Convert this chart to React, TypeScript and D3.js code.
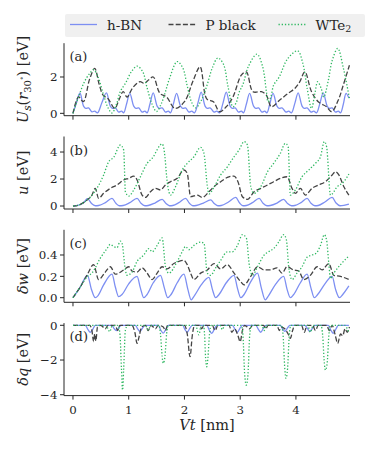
import React from "react";
import * as d3 from "d3";

type P = [number, number];

const X_TICKS = [0, 1, 2, 3, 4];
const SERIES_NAMES = ["h-BN", "P black", "WTe2"];

// Panel (a): U_s(r_30)
const hbnA: P[] = [[0,0],[0.06,0.55],[0.125,1.12],[0.19,0.4],[0.23,0.27],[0.28,0.3],[0.34,0.08],[0.39,0.12],[0.44,0.03],[0.52,0.6],[0.6,1.13],
[0.67,0.4],[0.71,0.27],[0.76,0.3],[0.82,0.07],[0.87,0.12],[0.91,0.03],[0.96,0.5],[1.02,1.1],
[1.09,0.4],[1.13,0.27],[1.18,0.3],[1.24,0.07],[1.29,0.12],[1.33,0.03],[1.38,0.5],[1.44,1.13],
[1.51,0.4],[1.55,0.27],[1.6,0.3],[1.66,0.07],[1.71,0.12],[1.75,0.03],[1.8,0.5],[1.86,1.1],
[1.93,0.4],[1.97,0.27],[2.02,0.3],[2.08,0.07],[2.13,0.12],[2.18,0.03],[2.24,0.55],[2.3,1.17],
[2.37,0.4],[2.41,0.27],[2.46,0.3],[2.53,0.07],[2.58,0.12],[2.63,0.03],[2.69,0.55],[2.75,1.17],
[2.82,0.4],[2.86,0.27],[2.91,0.3],[2.97,0.07],[3.02,0.12],[3.06,0.03],[3.11,0.5],[3.17,1.1],
[3.24,0.4],[3.28,0.27],[3.33,0.3],[3.39,0.07],[3.44,0.12],[3.48,0.03],[3.53,0.5],[3.59,1.1],
[3.66,0.4],[3.7,0.27],[3.75,0.3],[3.82,0.07],[3.87,0.12],[3.92,0.03],[3.98,0.55],[4.04,1.13],
[4.11,0.4],[4.15,0.27],[4.2,0.3],[4.27,0.07],[4.32,0.12],[4.37,0.03],[4.43,0.55],[4.49,1.13],
[4.56,0.4],[4.6,0.27],[4.65,0.3],[4.71,0.07],[4.76,0.12],[4.8,0.03],[4.85,0.5],[4.9,1.1],[4.95,0.85]];
const pblackA: P[] = [[0,0],[0.1,0.9],[0.185,0.64],[0.3,1.9],[0.39,2.47],[0.47,1.6],[0.54,1.0],[0.63,0.8],[0.75,0.27],[0.82,0.7],[0.9,1.19],[0.97,0.9],[1.07,1.4],[1.2,1.74],[1.28,1.65],[1.36,1.85],[1.44,2.0],[1.56,1.1],[1.68,0.9],[1.83,0.27],[2.0,0.64],[2.16,1.83],[2.28,2.56],[2.4,0.8],[2.52,0.64],[2.63,0.09],[2.75,0.36],[2.87,0.9],[3.02,2.1],[3.11,2.28],[3.23,1.19],[3.38,1.19],[3.47,1.0],[3.56,0.36],[3.71,0.73],[3.86,1.1],[3.98,1.37],[4.07,1.74],[4.16,2.28],[4.28,1.19],[4.4,0.64],[4.55,0.36],[4.64,0.09],[4.76,0.73],[4.84,1.46],[4.96,2.65]];
const wte2A: P[] = [[0,0],[0.1,0.9],[0.2,1.7],[0.3,2.2],[0.37,2.4],[0.45,2.0],[0.55,1.0],[0.63,0.3],[0.7,0.02],[0.78,0.5],[0.85,1.2],[0.95,1.7],[1.05,2.3],[1.15,2.6],[1.25,2.3],[1.33,1.4],[1.42,0.5],[1.5,0.1],[1.58,0.5],[1.65,1.1],[1.73,1.9],[1.87,2.85],[1.97,2.5],[2.05,1.5],[2.13,0.6],[2.2,0.3],[2.3,0.7],[2.4,1.5],[2.5,2.5],[2.6,3.05],[2.7,2.7],[2.78,1.5],[2.87,0.36],[2.93,0.6],[2.98,1.15],[3.05,1.6],[3.15,2.6],[3.3,3.26],[3.4,2.6],[3.47,1.2],[3.5,0.64],[3.55,0.9],[3.6,1.55],[3.7,2.0],[3.85,3.0],[4.03,3.44],[4.12,2.8],[4.2,1.4],[4.28,0.27],[4.34,1.1],[4.39,1.74],[4.45,1.4],[4.5,0.9],[4.58,1.8],[4.65,2.9],[4.75,3.57],[4.85,2.5],[4.96,0.82]];

// Panel (b): u
const hbnB: P[] = [[0,0],[0.1,0.07],[0.19,0.25],[0.26,0.55],[0.33,0.2],[0.4,0.02],[0.46,0.04],[0.58,0.25],[0.7,0.57],[0.77,0.2],[0.83,0.02],[0.9,0.04],[1.02,0.25],[1.15,0.57],[1.22,0.2],[1.29,0.02],[1.35,0.04],[1.47,0.22],[1.6,0.5],[1.67,0.18],[1.73,0.02],[1.79,0.04],[1.9,0.25],[2.02,0.57],[2.09,0.2],[2.15,0.02],[2.21,0.04],[2.34,0.22],[2.47,0.45],[2.54,0.17],[2.6,0.02],[2.66,0.04],[2.79,0.3],[2.92,0.64],[2.99,0.22],[3.05,0.02],[3.11,0.04],[3.22,0.25],[3.34,0.57],[3.41,0.2],[3.48,0.02],[3.54,0.04],[3.66,0.22],[3.78,0.5],[3.85,0.18],[3.92,0.02],[3.98,0.04],[4.09,0.25],[4.2,0.57],[4.27,0.2],[4.34,0.02],[4.4,0.04],[4.52,0.3],[4.65,0.64],[4.72,0.22],[4.79,0.02],[4.86,0.05],[4.95,0.15]];
const pblackB: P[] = [[0,0],[0.1,0.07],[0.19,0.25],[0.26,0.47],[0.34,0.8],[0.4,1.31],[0.46,0.57],[0.55,0.94],[0.67,1.31],[0.79,1.56],[0.91,1.93],[1.0,2.05],[1.09,2.22],[1.15,1.93],[1.24,0.81],[1.3,0.64],[1.39,1.06],[1.48,1.31],[1.57,1.19],[1.66,1.56],[1.75,1.8],[1.87,2.05],[1.99,2.67],[2.05,2.42],[2.11,0.69],[2.23,0.81],[2.32,0.64],[2.44,1.06],[2.53,1.43],[2.65,1.8],[2.77,2.12],[2.89,2.22],[2.96,1.8],[3.04,0.69],[3.13,0.49],[3.25,1.06],[3.37,1.31],[3.49,1.56],[3.6,1.8],[3.72,2.05],[3.84,2.17],[3.93,1.31],[3.99,0.94],[4.08,1.31],[4.17,0.81],[4.29,1.31],[4.41,1.56],[4.53,1.8],[4.65,2.3],[4.71,2.54],[4.77,2.3],[4.86,1.43],[4.95,0.81]];
const wte2B: P[] = [[0,0],[0.1,0.07],[0.19,0.25],[0.26,0.47],[0.34,0.8],[0.43,1.31],[0.55,2.3],[0.64,3.28],[0.73,3.6],[0.85,4.52],[0.91,4.15],[0.94,1.06],[1.0,0.74],[1.09,1.19],[1.21,2.17],[1.33,3.16],[1.42,3.53],[1.6,4.6],[1.63,4.27],[1.7,1.5],[1.75,0.81],[1.84,1.43],[1.96,2.67],[2.05,3.16],[2.17,3.65],[2.29,4.35],[2.35,3.9],[2.41,1.5],[2.44,0.9],[2.53,1.4],[2.65,2.3],[2.77,2.9],[2.89,3.65],[2.98,4.15],[3.07,4.77],[3.13,4.52],[3.19,1.43],[3.25,0.94],[3.37,1.43],[3.49,2.54],[3.6,3.16],[3.72,3.9],[3.81,4.64],[3.86,4.4],[3.9,0.81],[3.99,1.19],[4.11,2.17],[4.23,2.67],[4.35,3.16],[4.44,3.65],[4.51,4.77],[4.55,4.4],[4.62,0.81],[4.74,1.43],[4.86,1.8],[4.95,2.37]];

// Panel (c): delta w
const hbnC: P[] = [[0,0],[0.13,0.1],[0.26,0.21],[0.33,0.08],[0.4,0.0],[0.45,0.02],[0.55,0.12],[0.7,0.22],[0.76,0.1],[0.82,0.01],[0.88,0.03],[1.0,0.13],[1.15,0.2],[1.21,0.09],[1.27,0.0],[1.33,0.03],[1.44,0.14],[1.57,0.21],[1.64,0.09],[1.7,0.0],[1.76,0.03],[1.87,0.14],[1.99,0.22],[2.06,0.08],[2.12,-0.02],[2.18,0.02],[2.3,0.12],[2.44,0.19],[2.5,0.08],[2.56,0.0],[2.62,0.03],[2.75,0.14],[2.89,0.21],[2.95,0.09],[3.01,0.0],[3.07,0.03],[3.19,0.15],[3.31,0.23],[3.38,0.09],[3.45,-0.02],[3.51,0.02],[3.64,0.13],[3.78,0.2],[3.84,0.08],[3.9,0.0],[3.96,0.03],[4.08,0.14],[4.2,0.22],[4.27,0.09],[4.33,0.0],[4.39,0.03],[4.52,0.13],[4.65,0.2],[4.71,0.08],[4.78,0.0],[4.84,0.03],[4.95,0.11]];
const pblackC: P[] = [[0,0],[0.13,0.1],[0.26,0.22],[0.37,0.31],[0.46,0.17],[0.58,0.24],[0.67,0.29],[0.76,0.22],[0.91,0.26],[1.0,0.29],[1.06,0.25],[1.15,0.24],[1.24,0.28],[1.33,0.23],[1.42,0.17],[1.51,0.23],[1.6,0.29],[1.69,0.27],[1.81,0.32],[1.9,0.34],[1.99,0.35],[2.05,0.31],[2.11,0.23],[2.17,0.17],[2.29,0.23],[2.41,0.26],[2.53,0.32],[2.65,0.27],[2.77,0.31],[2.89,0.23],[3.01,0.15],[3.07,0.12],[3.19,0.2],[3.31,0.29],[3.43,0.26],[3.54,0.26],[3.66,0.28],[3.75,0.23],[3.84,0.29],[3.96,0.26],[4.05,0.25],[4.14,0.17],[4.26,0.21],[4.38,0.29],[4.47,0.26],[4.59,0.32],[4.68,0.21],[4.8,0.2],[4.95,0.17]];
const wte2C: P[] = [[0,0],[0.13,0.1],[0.26,0.2],[0.34,0.23],[0.49,0.37],[0.61,0.46],[0.67,0.5],[0.73,0.48],[0.79,0.47],[0.85,0.53],[0.88,0.51],[0.94,0.26],[0.97,0.21],[1.06,0.24],[1.15,0.34],[1.27,0.4],[1.36,0.46],[1.42,0.43],[1.51,0.49],[1.6,0.56],[1.66,0.29],[1.72,0.23],[1.87,0.34],[1.96,0.43],[2.02,0.48],[2.08,0.45],[2.17,0.49],[2.29,0.52],[2.35,0.51],[2.41,0.23],[2.47,0.21],[2.56,0.28],[2.65,0.35],[2.77,0.43],[2.86,0.43],[2.95,0.49],[3.04,0.59],[3.11,0.56],[3.16,0.32],[3.22,0.21],[3.31,0.29],[3.43,0.4],[3.51,0.43],[3.6,0.46],[3.69,0.52],[3.78,0.59],[3.83,0.54],[3.87,0.29],[3.93,0.17],[4.02,0.23],[4.11,0.29],[4.2,0.38],[4.29,0.4],[4.37,0.42],[4.44,0.49],[4.51,0.59],[4.55,0.54],[4.59,0.32],[4.62,0.18],[4.68,0.23],[4.8,0.31],[4.95,0.39]];

// Panel (d): delta q
const hbnD: P[] = [[0,0],[0.22,0],[0.27,-0.25],[0.31,-0.4],[0.36,-0.2],[0.4,0],[0.7,0],[0.74,-0.2],[0.78,-0.3],[0.83,-0.1],[0.87,0],[1.12,0],[1.16,-0.2],[1.2,-0.35],[1.25,-0.15],[1.29,0],[1.53,0],[1.58,-0.3],[1.62,-0.45],[1.67,-0.2],[1.71,0],[1.97,0],[2.01,-0.25],[2.05,-0.4],[2.1,-0.15],[2.14,0],[2.4,0],[2.45,-0.3],[2.49,-0.46],[2.54,-0.2],[2.58,0],[2.86,0],[2.91,-0.25],[2.95,-0.4],[3.0,-0.15],[3.04,0],[3.28,0],[3.33,-0.25],[3.37,-0.4],[3.42,-0.15],[3.46,0],[3.72,0],[3.76,-0.2],[3.8,-0.35],[3.85,-0.15],[3.89,0],[4.16,0],[4.21,-0.2],[4.25,-0.35],[4.3,-0.15],[4.34,0],[4.58,0],[4.63,-0.3],[4.67,-0.46],[4.72,-0.2],[4.76,0],[4.95,0]];
const pblackD: P[] = [[0,0],[0.3,0],[0.34,-0.3],[0.37,-0.94],[0.39,-0.5],[0.41,-0.9],[0.44,-0.1],[0.5,0],[0.58,-0.2],[0.63,0],[0.76,0],[0.8,-0.3],[0.84,0],[1.06,0],[1.11,-0.4],[1.15,-1.04],[1.19,-0.6],[1.23,-0.1],[1.3,0],[1.35,-0.3],[1.4,0],[1.48,-0.2],[1.53,0],[1.62,-0.1],[1.66,-0.3],[1.7,0],[2.0,0],[2.05,-0.5],[2.1,-1.81],[2.14,-0.6],[2.18,0],[2.27,0],[2.31,-0.2],[2.35,0],[2.5,0],[2.55,-0.3],[2.6,0],[2.8,0],[2.85,-0.4],[2.9,-0.2],[2.96,-0.6],[3.0,-0.94],[3.04,-0.3],[3.08,0],[3.17,-0.2],[3.22,0],[3.42,0],[3.46,-0.2],[3.5,0],[3.66,0],[3.7,-0.3],[3.74,-0.1],[3.8,-0.2],[3.86,-0.5],[3.9,-0.75],[3.94,-0.3],[3.98,0],[4.1,0],[4.15,-0.4],[4.2,0],[4.3,0],[4.35,-0.3],[4.4,0],[4.55,0],[4.6,-0.3],[4.65,0],[4.7,-0.5],[4.75,-1.04],[4.8,-0.5],[4.84,-0.6],[4.88,-0.2],[4.92,-0.4],[4.96,-0.1]];
const wte2D: P[] = [[0,0],[0.58,0],[0.62,-0.15],[0.66,-0.37],[0.7,-0.05],[0.8,0],[0.84,-0.4],[0.87,-2.5],[0.89,-3.73],[0.91,-2.5],[0.94,-0.3],[0.98,0],[1.3,0],[1.35,-0.27],[1.4,0],[1.54,0],[1.57,-0.5],[1.6,-1.8],[1.62,-2.19],[1.65,-1.8],[1.68,-0.5],[1.71,0],[2.2,0],[2.26,-0.55],[2.3,0],[2.34,0],[2.36,-0.5],[2.38,-1.9],[2.4,-2.39],[2.42,-1.9],[2.45,-0.5],[2.48,0],[2.64,0],[2.68,-0.25],[2.72,0],[3.02,0],[3.05,-0.6],[3.08,-2.8],[3.11,-3.45],[3.14,-2.8],[3.17,-0.6],[3.2,0],[3.39,0],[3.43,-0.3],[3.47,0],[3.74,0],[3.77,-0.6],[3.8,-2.5],[3.82,-3.05],[3.85,-2.5],[3.88,-0.6],[3.91,0],[4.21,0],[4.26,-0.4],[4.31,0],[4.45,0],[4.48,-0.6],[4.51,-2.2],[4.53,-2.58],[4.56,-2.2],[4.59,-0.6],[4.62,0],[4.88,0],[4.92,-0.2],[4.95,-0.4]];

const TICKS_A = [0, 2];
const TICKS_B = [0, 2, 4];
const TICKS_C = [0.0, 0.2, 0.4];
const TICKS_D = [0, -2, -4];

const COLORS = ["#7d8ff2", "#444444", "#30b862"];
const DASHES = ["none", "5,2.2", "1.3,1.9"];
const FONT = "'DejaVu Serif', serif";
const INK = "#262626";

const LEFT = 64;
const RIGHT = 350;
const PANEL_H = 72.5;
const TOPS = [43.2, 136.5, 229.8, 323.1];

const x = d3.scaleLinear().domain([-0.161, 4.97]).range([LEFT, RIGHT]);

type Panel = {
  series: P[][];
  domain: [number, number];
  ticks: number[];
  fmt: (v: number) => string;
  tag: string;
  smooth: boolean;
  label: React.ReactNode;
};

const minusFmt = (v: number) => (v < 0 ? "\u2212" + Math.abs(v) : String(v));

const panels: Panel[] = [
  {
    series: [hbnA, pblackA, wte2A], domain: [-0.13, 3.86], ticks: TICKS_A, fmt: minusFmt, tag: "(a)", smooth: true,
    label: (
      <>
        <tspan fontStyle="italic">U</tspan>
        <tspan fontStyle="italic" fontSize={10.5} dy={3}>s</tspan>
        <tspan dy={-3}>(</tspan>
        <tspan fontStyle="italic">r</tspan>
        <tspan fontSize={10} dy={3}>30</tspan>
        <tspan fontSize={7.5} dy={-6.5}>∘</tspan>
        <tspan dy={3.5}>) [eV]</tspan>
      </>
    ),
  },
  {
    series: [hbnB, pblackB, wte2B], domain: [-0.22, 5.15], ticks: TICKS_B, fmt: minusFmt, tag: "(b)", smooth: false,
    label: (<><tspan fontStyle="italic">u</tspan><tspan> [eV]</tspan></>),
  },
  {
    series: [hbnC, pblackC, wte2C], domain: [-0.043, 0.636], ticks: TICKS_C, fmt: (v) => v.toFixed(1), tag: "(c)", smooth: false,
    label: (<><tspan fontStyle="italic">δw</tspan><tspan> [eV]</tspan></>),
  },
  {
    series: [hbnD, pblackD, wte2D], domain: [-4.05, 0.127], ticks: TICKS_D, fmt: minusFmt, tag: "(d)", smooth: false,
    label: (<><tspan fontStyle="italic">δq</tspan><tspan> [eV]</tspan></>),
  },
];

export default function App() {
  return (
    <svg width={374} height={449} style={{ position: "absolute", left: 0, top: 0, background: "#fff", fontFamily: FONT }}>
      <rect x={0} y={0} width={374} height={449} fill="#fff" />
      {panels.map((p, i) => {
        const top = TOPS[i];
        const bottom = top + PANEL_H;
        const y = d3.scaleLinear().domain(p.domain).range([bottom, top]);
        const line = d3.line<P>().x((d) => x(d[0])).y((d) => y(d[1]))
          .curve(p.smooth ? d3.curveCatmullRom.alpha(0.5) : d3.curveMonotoneX);
        const mid = (top + bottom) / 2;
        return (
          <g key={i}>
            {p.series.map((s, k) => (
              <path key={k} d={line(s) ?? ""} fill="none" stroke={COLORS[k]} strokeWidth={1.3} strokeDasharray={DASHES[k]} />
            ))}
            <line x1={LEFT} x2={LEFT} y1={top} y2={bottom} stroke={INK} strokeWidth={1} />
            <line x1={LEFT} x2={RIGHT} y1={bottom} y2={bottom} stroke={INK} strokeWidth={1} />
            {X_TICKS.map((t) => (
              <line key={t} x1={x(t)} x2={x(t)} y1={bottom} y2={bottom + 4} stroke={INK} strokeWidth={1} />
            ))}
            {p.ticks.map((t) => (
              <g key={t}>
                <line x1={LEFT - 4} x2={LEFT} y1={y(t)} y2={y(t)} stroke={INK} strokeWidth={1} />
                <text x={LEFT - 6.5} y={y(t)} dy="0.36em" textAnchor="end" fontSize={11.8} fill={INK}>{p.fmt(t)}</text>
              </g>
            ))}
            <text x={69.5} y={top + 18} fontSize={13} fill={INK}>{p.tag}</text>
            <text transform={`translate(27.5,${mid}) rotate(-90)`} textAnchor="middle" fontSize={14.5} fill={INK}>{p.label}</text>
          </g>
        );
      })}
      {X_TICKS.map((t) => (
        <text key={t} x={x(t)} y={414} textAnchor="middle" fontSize={11.8} fill={INK}>{t}</text>
      ))}
      <text x={207} y={430} textAnchor="middle" fontSize={14.5} fill={INK}>
        <tspan fontStyle="italic">Vt</tspan><tspan> [nm]</tspan>
      </text>
      <rect x={65} y={14} width={300} height={23} rx={2} fill="#f0f0f0" />
      {SERIES_NAMES.map((n, k) => {
        const lx = [70, 168.5, 278.5][k];
        return (
          <g key={n}>
            <line x1={lx} x2={lx + 27} y1={24.5} y2={24.5} stroke={COLORS[k]} strokeWidth={1.3} strokeDasharray={DASHES[k]} />
            <text x={lx + 37} y={29.5} fontSize={13.5} fill={INK}>
              {n === "WTe2" ? (<><tspan>WTe</tspan><tspan fontSize={9.5} dy={2.5}>2</tspan></>) : n}
            </text>
          </g>
        );
      })}
    </svg>
  );
}
